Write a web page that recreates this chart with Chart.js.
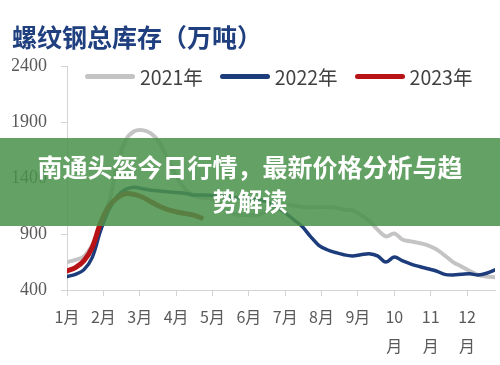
<!DOCTYPE html>
<html>
<head>
<meta charset="utf-8">
<script src="https://cdn.jsdelivr.net/npm/chart.js@4"></script>
<style>
  body { margin: 0; background: #fff; }
  #wrap { position: relative; width: 500px; height: 365px; }
  #legend {
    position: absolute; left: 85px; top: 64px; height: 24px;
    display: flex; align-items: center;
    font-family: "Noto Sans CJK SC", sans-serif; font-size: 19.5px; color: #404040;
  }
  #legend .item { display: flex; align-items: center; margin-right: 17px; }
  #legend .swatch { width: 50px; height: 5px; border-radius: 3px; margin-right: 5px; }
  #banner {
    position: absolute; left: 0; top: 138px; width: 500px; height: 88px;
    background: rgba(75, 145, 75, 0.86);
    font-family: "Noto Sans CJK SC", sans-serif; font-weight: bold;
    font-size: 25px; line-height: 34px; color: #fff; text-align: center;
  }
  #banner div { width: 432px; margin: 0 auto; padding-top: 11px; }
</style>
</head>
<body>
<div id="wrap">
  <canvas id="stockChart" width="500" height="365"></canvas>
  <div id="legend"></div>
  <div id="banner"><div>南通头盔今日行情，最新价格分析与趋势解读</div></div>
</div>
<script>
// month tick labels (x axis), 52 weekly points per year
var monthLabels = ['1月', '2月', '3月', '4月', '5月', '6月', '7月', '8月', '9月', ['10', '月'], ['11', '月'], ['12', '月']];
var yTicks = [400, 900, 1400, 1900, 2400];

// weekly rebar stock, 万吨
var stock2021 = [650, 670, 700, 800, 960, 1180, 1520, 1740, 1820, 1830, 1800, 1720, 1570, 1420, 1310, 1250,
                 1228, 1222, 1180, 1110, 1080, 1070, 1068, 1080, 1110, 1140, 1160, 1155, 1145, 1140, 1142, 1141,
                 1135, 1120, 1114, 1070, 1020, 940, 880, 905, 850, 835, 820, 800, 765, 710, 650, 610,
                 570, 535, 520, 515];
var stock2022 = [520, 540, 580, 690, 930, 1120, 1240, 1300, 1320, 1305, 1293, 1285, 1278, 1272, 1266, 1250,
                 1250, 1248, 1240, 1235, 1228, 1220, 1212, 1205, 1185, 1140, 1090, 1030, 970, 880, 800, 760,
                 735, 715, 705, 715, 725, 705, 650, 695, 660, 632, 610, 590, 570, 540, 535, 540,
                 545, 535, 550, 580];
var stock2023 = [570, 600, 660, 780, 1000, 1150, 1225, 1262, 1255, 1230, 1190, 1150, 1120, 1100, 1085, 1072, 1045];

function toPoints(arr) {
    return arr.map(function(v, i) { return {x: i, y: v}; });
}

var ctx = document.getElementById('stockChart').getContext('2d');
var stockChart = new Chart(ctx, {
    type: 'line',
    data: {
        datasets: [{
            label: '2021年',
            data: toPoints(stock2021),
            borderColor: '#c4c4c4',
            backgroundColor: '#c4c4c4',
            borderWidth: 4,
            order: 2
        }, {
            label: '2022年',
            data: toPoints(stock2022),
            borderColor: '#1c3c7c',
            backgroundColor: '#1c3c7c',
            borderWidth: 3.5,
            order: 1
        }, {
            label: '2023年',
            data: toPoints(stock2023),
            borderColor: '#b81418',
            backgroundColor: '#b81418',
            borderWidth: 5,
            order: 0
        }]
    },
    options: {
        responsive: false,
        animation: false,
        layout: { padding: { left: 12, right: 5, top: 0, bottom: 0 } },
        elements: {
            point: { radius: 0 },
            line: { tension: 0.35, borderCapStyle: 'round', borderJoinStyle: 'round' }
        },
        plugins: {
            title: {
                display: true,
                text: '螺纹钢总库存（万吨）',
                align: 'start',
                color: '#1f3f7f',
                font: { family: '"Noto Sans CJK SC", sans-serif', size: 25, weight: '600', lineHeight: 1.2 },
                padding: { top: 22, bottom: 14.4 }
            },
            legend: { display: false },
            tooltip: { enabled: false }
        },
        scales: {
            x: {
                type: 'linear',
                min: 0,
                max: 51,
                afterBuildTicks: function(scale) {
                    scale.ticks = monthLabels.map(function(l, i) { return {value: i * 52 / 12}; });
                },
                afterFit: function(scale) { scale.height = 75; },
                grid: { drawOnChartArea: false, tickLength: 6, color: '#d4d4d4' },
                border: { color: '#d4d4d4' },
                ticks: {
                    autoSkip: false,
                    maxRotation: 0,
                    padding: 7,
                    color: '#595959',
                    font: { family: '"Noto Sans CJK SC", sans-serif', size: 16, lineHeight: 1.8 },
                    callback: function(value, index) { return monthLabels[index]; }
                }
            },
            y: {
                min: 400,
                max: 2400,
                afterBuildTicks: function(scale) {
                    scale.ticks = yTicks.map(function(v) { return {value: v}; });
                },
                afterFit: function(scale) { scale.width = 55; },
                grid: { drawOnChartArea: false, tickLength: 6, color: '#d4d4d4' },
                border: { color: '#d4d4d4' },
                ticks: {
                    padding: 14,
                    color: '#595959',
                    font: { family: '"Liberation Serif", serif', size: 18 },
                    callback: function(v) { return String(v); }
                }
            }
        }
    }
});

// legend drawn inside the plot area, under the 2400 line
var legendEl = document.getElementById('legend');
stockChart.data.datasets.forEach(function(ds) {
    var item = document.createElement('div');
    item.className = 'item';
    var sw = document.createElement('span');
    sw.className = 'swatch';
    sw.style.background = ds.borderColor;
    var txt = document.createElement('span');
    txt.textContent = ds.label;
    item.appendChild(sw);
    item.appendChild(txt);
    legendEl.appendChild(item);
});
</script>
</body>
</html>
